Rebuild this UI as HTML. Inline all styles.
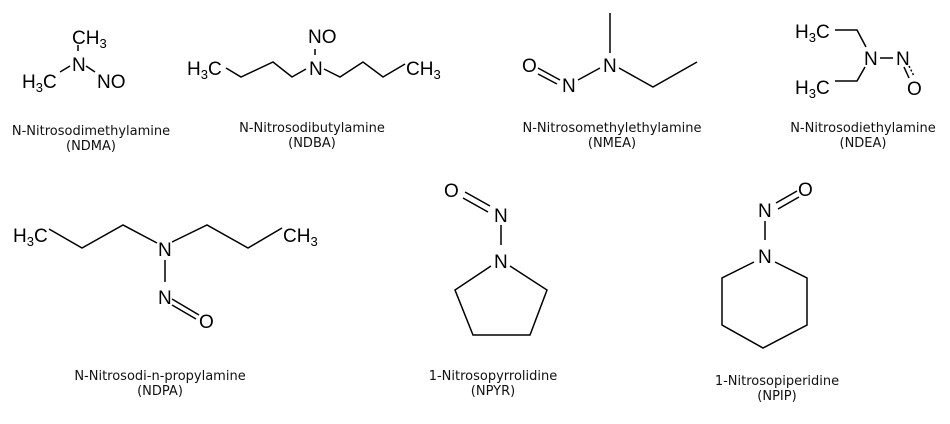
<!DOCTYPE html>
<html><head><meta charset="utf-8"><style>
html,body{margin:0;padding:0;background:#fff;}
svg{display:block;}
.a{font-family:"Liberation Sans",Arial,sans-serif;font-size:19px;fill:#000;}
.s{font-size:13px;}
.l{font-family:"DejaVu Sans",Verdana,sans-serif;font-size:13px;fill:#111;text-anchor:middle;}
line,polyline,polygon{stroke:#000;stroke-width:1.5;fill:none;}
</style></head><body>
<svg width="950" height="424" viewBox="0 0 950 424" xmlns="http://www.w3.org/2000/svg">
<!-- NDMA -->
<text class="a" x="72" y="44">CH<tspan class="s" dy="4">3</tspan></text>
<text class="a" x="72" y="71">N</text>
<text class="a" x="22" y="88">H<tspan class="s" dy="4">3</tspan><tspan dy="-4">C</tspan></text>
<text class="a" x="97" y="88">NO</text>
<line x1="78" y1="45" x2="78" y2="51"/>
<line x1="60" y1="72" x2="70" y2="66"/>
<line x1="86" y1="66" x2="95" y2="72"/>
<text class="l" x="91" y="135">N-Nitrosodimethylamine</text>
<text class="l" x="91" y="150">(NDMA)</text>
<!-- NDBA -->
<text class="a" x="308" y="43">NO</text>
<line x1="315" y1="49" x2="315" y2="55"/>
<text class="a" x="309" y="75">N</text>
<text class="a" x="187" y="75">H<tspan class="s" dy="4">3</tspan><tspan dy="-4">C</tspan></text>
<polyline points="226,68 241,77 273,62 292,77 306,69"/>
<polyline points="324,69 340,77 363,62 383,77 405,64"/>
<text class="a" x="406" y="75">CH<tspan class="s" dy="4">3</tspan></text>
<text class="l" x="312" y="132">N-Nitrosodibutylamine</text>
<text class="l" x="312" y="147">(NDBA)</text>
<!-- NMEA -->
<text class="a" x="522" y="72">O</text>
<text class="a" x="562" y="92">N</text>
<text class="a" x="603" y="72">N</text>
<line x1="610" y1="13" x2="610" y2="53"/>
<polyline points="619,68 653,87 697,62"/>
<line x1="578" y1="80" x2="600" y2="68"/>
<line x1="538" y1="68" x2="560" y2="80"/>
<line x1="538" y1="74" x2="557" y2="84"/>
<text class="l" x="612" y="132">N-Nitrosomethylethylamine</text>
<text class="l" x="612" y="147">(NMEA)</text>
<!-- NDEA -->
<text class="a" x="795" y="38">H<tspan class="s" dy="4">3</tspan><tspan dy="-4">C</tspan></text>
<text class="a" x="795" y="94">H<tspan class="s" dy="4">3</tspan><tspan dy="-4">C</tspan></text>
<polyline points="835,30 857,30 866,47"/>
<polyline points="835,81 857,81 865,67"/>
<text class="a" x="864" y="65">N</text>
<line x1="880" y1="58" x2="893" y2="58"/>
<text class="a" x="896" y="65">N</text>
<text class="a" x="907" y="95">O</text>
<line x1="904" y1="67" x2="909" y2="78"/>
<line x1="909" y1="66" x2="914" y2="76" stroke-dasharray="2,2"/>
<text class="l" x="863" y="132">N-Nitrosodiethylamine</text>
<text class="l" x="863" y="147">(NDEA)</text>
<!-- NDPA -->
<text class="a" x="13" y="242">H<tspan class="s" dy="4">3</tspan><tspan dy="-4">C</tspan></text>
<polyline points="49,229 82,248 123,225 157,243"/>
<text class="a" x="158" y="256">N</text>
<polyline points="172,242 207,225 248,248 282,228"/>
<text class="a" x="283" y="242">CH<tspan class="s" dy="4">3</tspan></text>
<line x1="165" y1="260" x2="165" y2="282"/>
<text class="a" x="158" y="304">N</text>
<line x1="172" y1="299" x2="199" y2="315"/>
<line x1="172" y1="305" x2="196" y2="319"/>
<text class="a" x="199" y="328">O</text>
<text class="l" x="160" y="380">N-Nitrosodi-n-propylamine</text>
<text class="l" x="160" y="395">(NDPA)</text>
<!-- NPYR -->
<text class="a" x="444" y="197">O</text>
<line x1="465" y1="192" x2="490" y2="206"/>
<line x1="463" y1="198" x2="488" y2="212"/>
<text class="a" x="494" y="222">N</text>
<line x1="501" y1="225" x2="501" y2="245"/>
<text class="a" x="494" y="268">N</text>
<polyline points="510,266 547,290 530,335 473,335 455,290 491,266"/>
<text class="l" x="493" y="380">1-Nitrosopyrrolidine</text>
<text class="l" x="493" y="395">(NPYR)</text>
<!-- NPIP -->
<text class="a" x="798" y="196">O</text>
<line x1="776" y1="203" x2="797" y2="191"/>
<line x1="778" y1="209" x2="799" y2="197"/>
<text class="a" x="758" y="217">N</text>
<line x1="765" y1="221" x2="765" y2="240"/>
<text class="a" x="758" y="263">N</text>
<polyline points="775,262 807,278 807,325 763,348 722,325 722,278 754,262"/>
<text class="l" x="777" y="385">1-Nitrosopiperidine</text>
<text class="l" x="777" y="400">(NPIP)</text>
</svg>
</body></html>
